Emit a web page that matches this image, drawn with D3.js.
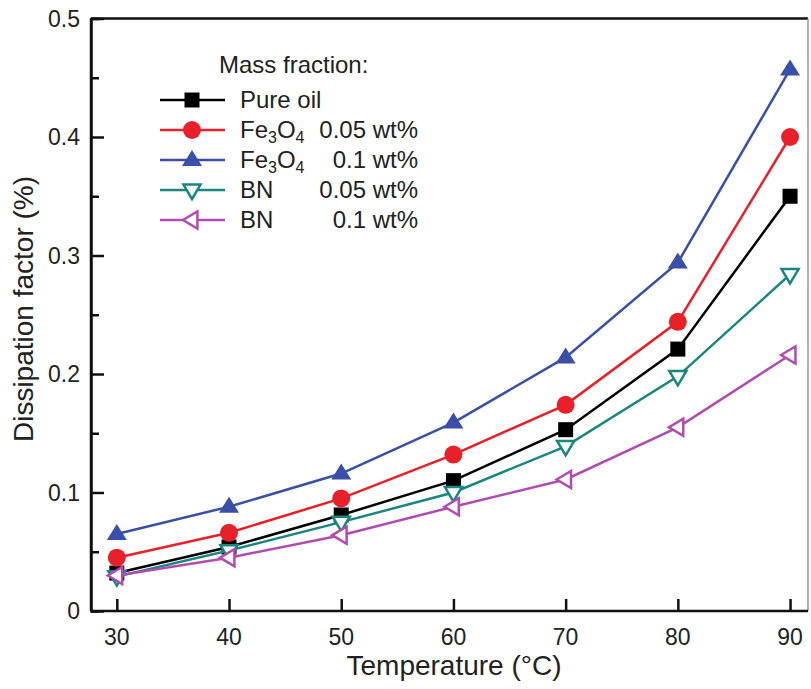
<!DOCTYPE html>
<html>
<head>
<meta charset="utf-8">
<script src="https://cdn.jsdelivr.net/npm/d3@7"></script>
<style>
  body { margin: 0; background: #fff; }
  text { font-family: "Liberation Sans", Arial, sans-serif; fill: #222; }
</style>
</head>
<body>
<div id="chart"></div>
<script>
const temps = [30, 40, 50, 60, 70, 80, 90];
const pureOil = [0.032, 0.054, 0.081, 0.110, 0.153, 0.221, 0.350];
const fe005 = [0.045, 0.066, 0.095, 0.132, 0.174, 0.244, 0.400];
const fe01 = [0.065, 0.088, 0.116, 0.159, 0.214, 0.294, 0.457];
const bn005 = [0.029, 0.051, 0.075, 0.100, 0.139, 0.198, 0.284];
const bn01 = [0.030, 0.045, 0.064, 0.088, 0.111, 0.155, 0.216];
const xTicks = [30, 40, 50, 60, 70, 80, 90];
const yTicks = [0, 0.1, 0.2, 0.3, 0.4, 0.5];

const series = [
  {name: "Pure oil", values: pureOil, color: "#000000", symbol: "square", fill: true},
  {name: "Fe3O4", amount: "0.05 wt%", values: fe005, color: "#e8202a", symbol: "circle", fill: true},
  {name: "Fe3O4", amount: "0.1 wt%", values: fe01, color: "#3a4fa6", symbol: "up", fill: true},
  {name: "BN", amount: "0.05 wt%", values: bn005, color: "#1b8580", symbol: "down", fill: false},
  {name: "BN", amount: "0.1 wt%", values: bn01, color: "#b04cb0", symbol: "left", fill: false}
];

const W = 811, H = 689;
const plotL = 91, plotR = 808, plotT = 18.5, plotB = 611;

const x = d3.scaleLinear().domain([27.7, 91.6]).range([plotL, plotR]);
const y = d3.scaleLinear().domain([0, 0.5]).range([plotB, plotT]);

const svg = d3.select("#chart").append("svg")
  .attr("width", W).attr("height", H);

// frame
svg.append("line").attr("x1", plotL).attr("x2", plotR).attr("y1", plotT).attr("y2", plotT)
  .attr("stroke", "#111").attr("stroke-width", 2.5);
svg.append("line").attr("x1", plotR).attr("x2", plotR).attr("y1", plotT).attr("y2", plotB)
  .attr("stroke", "#999").attr("stroke-width", 1.5);

// axes with inward ticks
const xAxis = svg.append("g").attr("transform", `translate(0,${plotB})`)
  .call(d3.axisTop(x).tickValues(xTicks).tickSize(12).tickFormat(""));
const yAxis = svg.append("g").attr("transform", `translate(${plotL},0)`)
  .call(d3.axisRight(y).tickValues(yTicks).tickSize(13).tickFormat(""));
svg.append("g").attr("transform", `translate(${plotL},0)`)
  .call(d3.axisRight(y).tickValues(d3.range(0.05, 0.5, 0.1)).tickSize(8).tickFormat(""));
svg.selectAll(".domain").attr("stroke", "#111").attr("stroke-width", 2.5);
svg.selectAll(".tick line").attr("stroke", "#111").attr("stroke-width", 2.5);
xAxis.select(".domain").attr("d", `M${plotL},0H${plotR}`);
yAxis.select(".domain").attr("d", `M0,${plotT}V${plotB}`);

// tick labels
svg.selectAll(".xlab").data(xTicks).enter().append("text")
  .attr("x", d => x(d)).attr("y", plotB + 34)
  .attr("text-anchor", "middle").style("font-size", "23px")
  .text(d => d);
svg.selectAll(".ylab").data(yTicks).enter().append("text")
  .attr("x", plotL - 11).attr("y", d => y(d) + 8)
  .attr("text-anchor", "end").style("font-size", "23px")
  .text(d => d === 0 ? "0" : d3.format(".1f")(d));

// axis titles
svg.append("text").attr("x", 454).attr("y", 675)
  .attr("text-anchor", "middle").style("font-size", "28px")
  .text("Temperature (°C)");
svg.append("text").attr("transform", `translate(33,309) rotate(-90)`)
  .attr("text-anchor", "middle").style("font-size", "28px")
  .text("Dissipation factor (%)");

const line = d3.line().x((d, i) => x(temps[i])).y(d => y(d));

function drawMarker(g, s, cx, cy) {
  const sw = 2.5;
  if (s.symbol === "square") {
    g.append("rect").attr("x", cx - 7.5).attr("y", cy - 7.5).attr("width", 15).attr("height", 15)
      .attr("fill", s.color);
  } else if (s.symbol === "circle") {
    g.append("circle").attr("cx", cx).attr("cy", cy).attr("r", 9).attr("fill", s.color);
  } else {
    const r = s.fill ? 10 : 9;
    let pts;
    if (s.symbol === "up") pts = [[0, -r], [r, r * 0.6], [-r, r * 0.6]];
    if (s.symbol === "down") pts = [[0, r], [r * 0.95, -r * 0.6], [-r * 0.95, -r * 0.6]];
    if (s.symbol === "left") pts = [[-r, 0], [r * 0.6, -r * 0.95], [r * 0.6, r * 0.95]];
    g.append("polygon")
      .attr("points", pts.map(p => [cx + p[0], cy + p[1]].join(",")).join(" "))
      .attr("fill", s.fill ? s.color : "#fff")
      .attr("stroke", s.color).attr("stroke-width", s.fill ? 0 : sw)
      .attr("stroke-linejoin", "miter");
  }
}

series.forEach(s => {
  const g = svg.append("g");
  g.append("path").datum(s.values).attr("d", line)
    .attr("fill", "none").attr("stroke", s.color).attr("stroke-width", 2.5);
  s.values.forEach((v, i) => drawMarker(g, s, x(temps[i]), y(v)));
});

// legend
const lg = svg.append("g");
lg.append("text").attr("x", 219).attr("y", 73).style("font-size", "24px").text("Mass fraction:");
series.forEach((s, i) => {
  const ly = 100 + i * 30;
  const g = lg.append("g");
  g.append("line").attr("x1", 160).attr("x2", 225).attr("y1", ly).attr("y2", ly)
    .attr("stroke", s.color).attr("stroke-width", 2.5);
  drawMarker(g, s, 192, ly);
  const t = g.append("text").attr("x", 240).attr("y", ly + 8).style("font-size", "24px");
  if (s.name === "Fe3O4") {
    t.append("tspan").text("Fe");
    t.append("tspan").attr("dy", 5).style("font-size", "16px").text("3");
    t.append("tspan").attr("dy", -5).text("O");
    t.append("tspan").attr("dy", 5).style("font-size", "16px").text("4");
  } else {
    t.text(s.name);
  }
  if (s.amount) {
    g.append("text").attr("x", 418).attr("y", ly + 8).attr("text-anchor", "end")
      .style("font-size", "24px").text(s.amount);
  }
});
</script>
</body>
</html>
